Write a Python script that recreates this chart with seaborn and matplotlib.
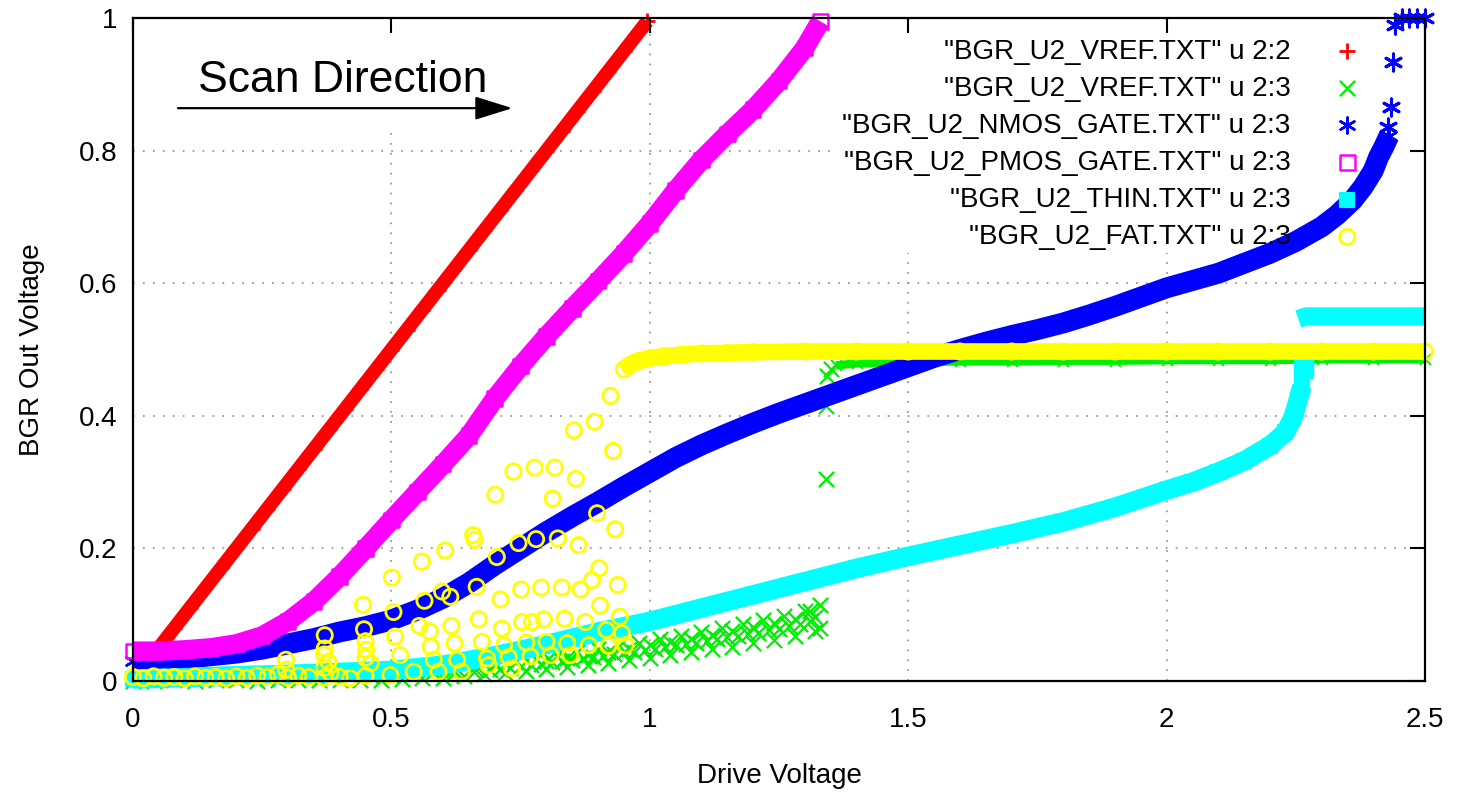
import matplotlib
matplotlib.use("Agg")
import matplotlib.pyplot as plt
import seaborn as sns

# ---------------- data ----------------
x_ticks = [0.0, 0.5, 1.0, 1.5, 2.0, 2.5]
x_tick_labels = ["0", "0.5", "1", "1.5", "2", "2.5"]
y_ticks = [0.0, 0.2, 0.4, 0.6, 0.8, 1.0]
y_tick_labels = ["0", "0.2", "0.4", "0.6", "0.8", "1"]

series_labels = [
    '"BGR_U2_VREF.TXT" u 2:2',
    '"BGR_U2_VREF.TXT" u 2:3',
    '"BGR_U2_NMOS_GATE.TXT" u 2:3',
    '"BGR_U2_PMOS_GATE.TXT" u 2:3',
    '"BGR_U2_THIN.TXT" u 2:3',
    '"BGR_U2_FAT.TXT" u 2:3',
]

# VREF u 2:2  (column 2 against itself)
vref_drive = [0.02, 0.05, 0.08, 0.11, 0.14, 0.17, 0.20, 0.23, 0.26, 0.29, 0.32,
              0.35, 0.38, 0.41, 0.44, 0.47, 0.50, 0.53, 0.56, 0.59, 0.62, 0.65,
              0.68, 0.71, 0.74, 0.77, 0.80, 0.83, 0.86, 0.89, 0.92, 0.95, 0.98, 0.995]
vref_col2 = [0.02, 0.05, 0.08, 0.11, 0.14, 0.17, 0.20, 0.23, 0.26, 0.29, 0.32,
             0.35, 0.38, 0.41, 0.44, 0.47, 0.50, 0.53, 0.56, 0.59, 0.62, 0.65,
             0.68, 0.71, 0.74, 0.77, 0.80, 0.83, 0.86, 0.89, 0.92, 0.95, 0.98, 0.995]

# VREF u 2:3 : noisy wedge, then jump to ~0.48
vref3_x = [0.00, 0.04, 0.08, 0.12, 0.16, 0.20, 0.24, 0.28, 0.32, 0.36, 0.40, 0.44,
           0.48, 0.52, 0.56, 0.60, 0.64, 0.68, 0.72, 0.76, 0.80, 0.84, 0.88, 0.92,
           0.96, 1.00, 1.04, 1.08, 1.12, 1.16, 1.20, 1.24, 1.28, 1.32, 1.33,
           0.02, 0.06, 0.10, 0.14, 0.18, 0.22, 0.26, 0.30, 0.34, 0.38, 0.42, 0.46,
           0.50, 0.54, 0.58, 0.62, 0.66, 0.70, 0.74, 0.78, 0.82, 0.86, 0.90, 0.94,
           0.98, 1.02, 1.06, 1.10, 1.14, 1.18, 1.22, 1.26, 1.30, 1.33,
           0.71, 0.75, 0.79, 0.83, 0.87, 0.91, 0.95, 0.99, 1.03, 1.07, 1.11, 1.15,
           1.19, 1.23, 1.27, 1.31,
           0.62, 0.66, 0.69, 0.73, 0.77, 0.81, 0.85, 0.89, 0.93, 0.97, 1.01, 1.05,
           1.09, 1.13, 1.17, 1.21, 1.25, 1.29, 1.32,
           0.80, 0.84, 0.88, 0.92, 0.96, 1.00, 1.04, 1.08, 1.12, 1.16, 1.20, 1.24,
           1.28, 1.31,
           1.34, 1.34, 1.343, 1.35]
vref3_y = [0.000, 0.000, 0.001, 0.000, 0.001, 0.001, 0.000, 0.001, 0.001, 0.001, 0.002, 0.002,
           0.002, 0.003, 0.004, 0.005, 0.007, 0.010, 0.012, 0.015, 0.018, 0.021, 0.024, 0.027,
           0.031, 0.035, 0.039, 0.043, 0.048, 0.052, 0.057, 0.062, 0.068, 0.075, 0.080,
           0.004, 0.005, 0.004, 0.005, 0.005, 0.006, 0.005, 0.006, 0.006, 0.007, 0.007, 0.008,
           0.009, 0.011, 0.013, 0.016, 0.020, 0.024, 0.028, 0.033, 0.038, 0.043, 0.048, 0.053,
           0.058, 0.063, 0.068, 0.074, 0.080, 0.086, 0.092, 0.098, 0.105, 0.115,
           0.018, 0.022, 0.026, 0.030, 0.034, 0.038, 0.043, 0.047, 0.052, 0.056, 0.061, 0.066,
           0.071, 0.077, 0.083, 0.090,
           0.010, 0.013, 0.016, 0.020, 0.024, 0.028, 0.032, 0.036, 0.040, 0.044, 0.049, 0.054,
           0.058, 0.063, 0.068, 0.073, 0.079, 0.086, 0.096,
           0.030, 0.034, 0.039, 0.044, 0.049, 0.054, 0.059, 0.064, 0.070, 0.076, 0.082, 0.088,
           0.094, 0.106,
           0.305, 0.415, 0.460, 0.470]
vref3_flat_x = [1.36, 1.40, 1.50, 1.60, 1.70, 1.80, 1.90, 2.00, 2.10, 2.20, 2.30, 2.40, 2.50]
vref3_flat_y = [0.476, 0.479, 0.481, 0.482, 0.482, 0.483, 0.483, 0.484, 0.484, 0.484, 0.485, 0.485, 0.485]

# NMOS_GATE u 2:3
nmos_x = [0.00, 0.05, 0.10, 0.15, 0.20, 0.25, 0.30, 0.35, 0.40, 0.45, 0.50, 0.55,
          0.60, 0.65, 0.70, 0.75, 0.80, 0.85, 0.90, 0.95, 1.00, 1.05, 1.10, 1.15,
          1.20, 1.25, 1.30, 1.35, 1.40, 1.45, 1.50, 1.55, 1.60, 1.65, 1.70, 1.75,
          1.80, 1.85, 1.90, 1.95, 2.00, 2.05, 2.10, 2.15, 2.20, 2.25, 2.30, 2.33,
          2.36, 2.38, 2.40, 2.41, 2.42, 2.43]
nmos_y = [0.030, 0.032, 0.034, 0.038, 0.042, 0.048, 0.056, 0.064, 0.074, 0.082, 0.092, 0.107,
          0.125, 0.148, 0.175, 0.200, 0.225, 0.248, 0.270, 0.293, 0.315, 0.337, 0.356, 0.373,
          0.389, 0.404, 0.418, 0.432, 0.446, 0.460, 0.474, 0.488, 0.500, 0.511, 0.521, 0.530,
          0.540, 0.552, 0.565, 0.579, 0.593, 0.604, 0.615, 0.630, 0.645, 0.663, 0.685, 0.703,
          0.725, 0.745, 0.770, 0.790, 0.805, 0.822]
nmos_tail_x = [2.428, 2.434, 2.438, 2.442, 2.455, 2.47, 2.485, 2.50]
nmos_tail_y = [0.836, 0.866, 0.934, 0.990, 1.000, 1.000, 1.000, 1.000]

# PMOS_GATE u 2:3
pmos_x = [0.00, 0.05, 0.10, 0.15, 0.20, 0.25, 0.30, 0.35, 0.40, 0.45, 0.50, 0.55,
          0.60, 0.65, 0.70, 0.75, 0.80, 0.85, 0.90, 0.95, 1.00, 1.05, 1.10, 1.15,
          1.20, 1.25, 1.30, 1.33]
pmos_y = [0.045, 0.045, 0.047, 0.050, 0.056, 0.068, 0.090, 0.120, 0.158, 0.200, 0.243, 0.285,
          0.327, 0.370, 0.426, 0.475, 0.520, 0.562, 0.603, 0.645, 0.690, 0.740, 0.786, 0.825,
          0.862, 0.905, 0.955, 0.995]

# THIN u 2:3
thin_x = [0.00, 0.10, 0.20, 0.30, 0.40, 0.50, 0.60, 0.70, 0.80, 0.90, 1.00, 1.10,
          1.20, 1.30, 1.40, 1.50, 1.60, 1.70, 1.80, 1.90, 2.00, 2.05, 2.10, 2.15,
          2.20, 2.23, 2.245, 2.255, 2.262]
thin_y = [0.003, 0.005, 0.008, 0.010, 0.013, 0.016, 0.024, 0.038, 0.055, 0.074, 0.090, 0.110,
          0.130, 0.150, 0.170, 0.188, 0.205, 0.222, 0.240, 0.262, 0.288, 0.300, 0.315, 0.332,
          0.355, 0.375, 0.398, 0.425, 0.445]
thin_jump_x = [2.265, 2.265]
thin_jump_y = [0.470, 0.478]
thin_top_x = [2.255, 2.27, 2.30, 2.35, 2.40, 2.45, 2.50]
thin_top_y = [0.546, 0.550, 0.550, 0.550, 0.550, 0.550, 0.550]

# FAT u 2:3 : scattered circles, then flat ~0.497
fat_scatter_x = [0.00, 0.02, 0.04, 0.06, 0.08, 0.10, 0.12, 0.14, 0.16, 0.18, 0.20, 0.22,
                 0.24, 0.26, 0.28, 0.32, 0.34, 0.40, 0.42,
                 0.296, 0.296, 0.30, 0.37, 0.37, 0.371, 0.371, 0.378, 0.382, 0.37,
                 0.445, 0.447, 0.451, 0.460, 0.45, 0.45, 0.45,
                 0.924, 0.893, 0.853, 0.929, 0.736, 0.777, 0.816, 0.857, 0.701, 0.812,
                 0.898, 0.933, 0.658, 0.661, 0.746, 0.780, 0.822, 0.862, 0.604, 0.704,
                 0.559, 0.501, 0.902, 0.888, 0.938, 0.866, 0.830, 0.790, 0.751, 0.665,
                 0.598, 0.614, 0.711, 0.564, 0.504, 0.904, 0.942, 0.875, 0.835, 0.795,
                 0.772, 0.753, 0.669, 0.616, 0.574, 0.554, 0.507, 0.714, 0.916, 0.946,
                 0.953, 0.920, 0.882, 0.840, 0.800, 0.761, 0.718, 0.675, 0.622, 0.576,
                 0.517, 0.846, 0.808, 0.769, 0.727, 0.685, 0.627, 0.582, 0.733, 0.688,
                 0.636, 0.591, 0.543, 0.498]
fat_scatter_y = [0.006, 0.004, 0.007, 0.005, 0.006, 0.004, 0.007, 0.005, 0.006, 0.004, 0.007, 0.005,
                 0.008, 0.006, 0.010, 0.008, 0.006, 0.006, 0.004,
                 0.032, 0.017, 0.005, 0.005, 0.040, 0.069, 0.049, 0.029, 0.012, 0.020,
                 0.115, 0.078, 0.047, 0.027, 0.060, 0.035, 0.008,
                 0.430, 0.391, 0.378, 0.347, 0.316, 0.322, 0.322, 0.305, 0.281, 0.275,
                 0.253, 0.229, 0.220, 0.213, 0.208, 0.214, 0.215, 0.205, 0.197, 0.187,
                 0.180, 0.156, 0.170, 0.152, 0.145, 0.138, 0.141, 0.141, 0.138, 0.142,
                 0.135, 0.127, 0.123, 0.121, 0.104, 0.114, 0.097, 0.089, 0.094, 0.093,
                 0.089, 0.089, 0.093, 0.083, 0.075, 0.083, 0.067, 0.079, 0.077, 0.072,
                 0.054, 0.053, 0.054, 0.057, 0.059, 0.058, 0.054, 0.059, 0.057, 0.052,
                 0.039, 0.039, 0.039, 0.037, 0.036, 0.034, 0.032, 0.032, 0.019, 0.024,
                 0.014, 0.014, 0.014, 0.009]
fat_band_x = [0.95, 0.96, 0.97, 0.98, 1.00, 1.03, 1.06, 1.10, 1.15, 1.20, 1.30, 1.40,
              1.50, 1.60, 1.70, 1.80, 1.90, 2.00, 2.10, 2.20, 2.30, 2.40, 2.50]
fat_band_y = [0.470, 0.476, 0.480, 0.483, 0.487, 0.490, 0.492, 0.494, 0.495, 0.496, 0.497, 0.497,
              0.497, 0.497, 0.497, 0.497, 0.497, 0.497, 0.497, 0.497, 0.497, 0.497, 0.497]

# ---------------- style ----------------
RED, GREEN, BLUE = "#ff0000", "#00ee00", "#0000ff"
MAGENTA, CYAN, YELLOW = "#ff00ff", "#00ffff", "#ffff00"
ASTERISK = (6, 2, 0)

sns.set_theme(style="white")
plt.rcParams["font.family"] = ["Liberation Sans", "DejaVu Sans"]

fig = plt.figure(figsize=(14.61, 7.93), dpi=100)
ax = fig.add_axes([133 / 1461, 112 / 793, 1292 / 1461, 663 / 793])

handles = []

def band(x, y, color, lw, z):
    sns.lineplot(x=x, y=y, ax=ax, color=color, lw=lw, sort=False, estimator=None,
                 zorder=z, clip_on=False, solid_capstyle="butt")

def pts(x, y, marker, color, s, z, lw=1.6, filled=False, label=None):
    kw = dict(x=x, y=y, ax=ax, marker=marker, s=s, zorder=z, clip_on=False,
              linewidth=lw, color=color)
    if filled:
        kw["edgecolor"] = color
    elif marker in ("o", "s"):
        kw["facecolor"] = "none"
        kw["edgecolor"] = color
    sns.scatterplot(**kw)
    coll = ax.collections[-1]
    if label is not None:
        handles.append((coll, label))

# red: VREF 2:2
band(vref_drive, vref_col2, RED, 10, 2.00)
pts(vref_drive, vref_col2, "+", RED, 130, 2.01, lw=2.0, label=series_labels[0])
# green: VREF 2:3
band(vref3_flat_x, vref3_flat_y, GREEN, 6, 2.05)
pts(vref3_x, vref3_y, "x", GREEN, 120, 2.06, lw=1.6, label=series_labels[1])
pts(vref3_flat_x, vref3_flat_y, "x", GREEN, 60, 2.06, lw=1.4)
# blue: NMOS gate
band(nmos_x, nmos_y, BLUE, 15, 2.10)
pts(nmos_x, nmos_y, ASTERISK, BLUE, 130, 2.11, lw=1.8, label=series_labels[2])
pts(nmos_tail_x, nmos_tail_y, ASTERISK, BLUE, 150, 2.11, lw=2.2)
# magenta: PMOS gate
band(pmos_x, pmos_y, MAGENTA, 14, 2.15)
pts(pmos_x, pmos_y, "s", MAGENTA, 110, 2.16, lw=1.8, label=series_labels[3])
# cyan: THIN
band(thin_x, thin_y, CYAN, 14, 2.20)
pts(thin_x, thin_y, "s", CYAN, 110, 2.21, filled=True, label=series_labels[4])
pts(thin_jump_x, thin_jump_y, "s", CYAN, 160, 2.21, filled=True)
band(thin_top_x, thin_top_y, CYAN, 13, 2.20)
# yellow: FAT
band(fat_band_x, fat_band_y, YELLOW, 12, 2.30)
pts(fat_band_x, fat_band_y, "o", YELLOW, 120, 2.31, lw=2.0)
pts(fat_scatter_x, fat_scatter_y, "o", YELLOW, 120, 2.31, lw=2.0, label=series_labels[5])

# ---------------- axes ----------------
ax.set_xlim(0, 2.5)
ax.set_ylim(0, 1.0)
ax.set_xticks(x_ticks)
ax.set_xticklabels(x_tick_labels)
ax.set_yticks(y_ticks)
ax.set_yticklabels(y_tick_labels)
ax.set_axisbelow(False)
ax.tick_params(axis="both", which="major", direction="in", length=11, width=1.5,
               top=True, right=True, labelsize=20, colors="black")
ax.tick_params(axis="x", pad=19)
ax.tick_params(axis="y", pad=11)
for sp in ax.spines.values():
    sp.set_color("black")
    sp.set_linewidth(1.6)
    sp.set_zorder(2.6)

# dotted grid (gnuplot leaves it out under the key and label)
grid_kw = dict(color="#9a9a9a", lw=1.3, ls=(0, (1, 4.5)), zorder=0.5)
grid_vmax = {0.5: 0.827, 1.0: 1.0, 1.5: 0.645, 2.0: 0.645}
for gx in x_ticks[1:-1]:
    ax.axvline(gx, ymin=0, ymax=grid_vmax[gx], **grid_kw)
grid_hmax = {0.2: 1.0, 0.4: 1.0, 0.6: 1.0, 0.8: 0.544}
for gy in y_ticks[1:-1]:
    ax.axhline(gy, xmin=0, xmax=grid_hmax[gy], **grid_kw)

ax.set_xlabel("Drive Voltage", fontsize=20, color="black")
ax.set_ylabel("BGR Out Voltage", fontsize=20, color="black")
ax.xaxis.set_label_coords(0.5, -0.124)
ax.yaxis.set_label_coords(-0.068, 0.5)

# scan direction label + arrow
ax.text(0.126, 0.888, "Scan Direction", fontsize=32, color="black",
        ha="left", va="baseline", zorder=3)
ax.annotate("", xy=(0.734, 0.864), xytext=(0.087, 0.864),
            arrowprops=dict(arrowstyle="-|>,head_length=0.8,head_width=0.25",
                            mutation_scale=29, lw=1.6, color="black",
                            shrinkA=0, shrinkB=0), zorder=3)

leg = ax.legend([h for h, _ in handles], [l for _, l in handles],
                loc="upper right", bbox_to_anchor=(0.9613, 0.969),
                bbox_transform=ax.transAxes, frameon=False, markerfirst=False,
                fontsize=20, handlelength=2.0, handletextpad=1.05,
                labelspacing=0.40, borderpad=0, borderaxespad=0, scatterpoints=1)
for t in leg.get_texts():
    t.set_color("black")

fig.savefig("out.png", dpi=100, facecolor="white")
